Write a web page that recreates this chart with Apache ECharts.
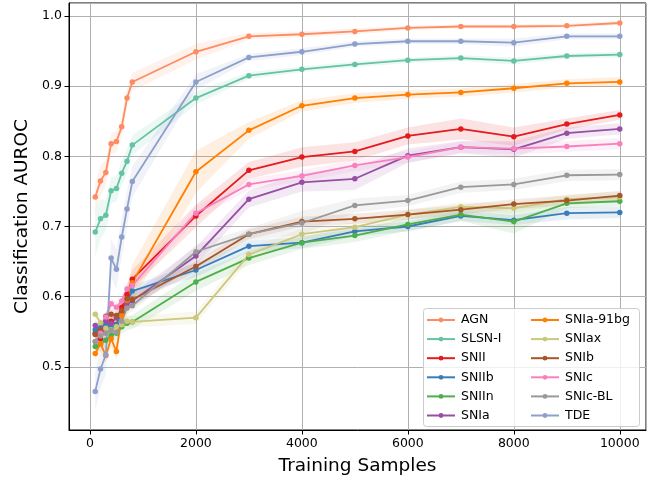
<!DOCTYPE html>
<html><head><meta charset="utf-8">
<script src="https://cdn.jsdelivr.net/npm/echarts@6/dist/echarts.min.js"></script>
<style>html,body{margin:0;padding:0;background:#fff}#c{width:668px;height:487px}</style>
</head><body><div id="c"></div>
<script>
// ---- data ----
const samples = [100,200,300,400,500,600,700,800,2000,3000,4000,5000,6000,7000,8000,9000,10000];
const classNames = ['AGN','SLSN-I','SNII','SNIIb','SNIIn','SNIa','SNIa-91bg','SNIax','SNIb','SNIc','SNIc-BL','TDE'];
const classColors = ['#fc8d62','#66c2a5','#e41a1c','#377eb8','#4daf4a','#984ea3','#ff7f00','#cbc77b','#a65628','#f781bf','#999999','#8da0cb'];

const aucAGN      = [0.742,0.765,0.777,0.818,0.821,0.842,0.883,0.906,0.949,0.971,0.974,0.978,0.983,0.985,0.985,0.986,0.990];
const aucSLSNI    = [0.692,0.711,0.716,0.751,0.754,0.776,0.793,0.816,0.883,0.915,0.924,0.931,0.937,0.940,0.936,0.943,0.945];
const aucSNII     = [0.548,0.540,0.556,0.565,0.560,0.585,0.603,0.625,0.715,0.780,0.799,0.807,0.829,0.839,0.828,0.846,0.859];
const aucSNIIb    = [0.553,0.556,0.560,0.556,0.560,0.578,0.593,0.608,0.638,0.672,0.677,0.693,0.700,0.715,0.709,0.719,0.720];
const aucSNIIn    = [0.529,0.533,0.538,0.545,0.548,0.557,0.562,0.564,0.621,0.655,0.677,0.687,0.703,0.717,0.707,0.733,0.736];
const aucSNIa     = [0.559,0.550,0.565,0.562,0.570,0.578,0.590,0.594,0.658,0.739,0.763,0.768,0.801,0.813,0.810,0.833,0.839];
const aucSNIa91bg = [0.519,0.533,0.516,0.540,0.522,0.573,0.595,0.620,0.778,0.837,0.872,0.883,0.888,0.891,0.897,0.904,0.906];
const aucSNIax    = [0.575,0.563,0.555,0.553,0.557,0.560,0.565,0.564,0.570,0.660,0.689,0.699,0.717,0.728,0.726,0.739,0.742];
const aucSNIb     = [0.546,0.553,0.572,0.575,0.573,0.580,0.597,0.596,0.643,0.689,0.707,0.711,0.717,0.724,0.732,0.737,0.744];
const aucSNIc     = [0.536,0.548,0.571,0.590,0.585,0.594,0.611,0.616,0.719,0.760,0.772,0.787,0.799,0.813,0.811,0.814,0.818];
const aucSNIcBL   = [0.536,0.544,0.548,0.552,0.549,0.565,0.584,0.587,0.664,0.689,0.705,0.730,0.737,0.756,0.760,0.773,0.774];
const aucTDE      = [0.465,0.497,0.517,0.655,0.639,0.685,0.725,0.764,0.906,0.941,0.949,0.960,0.964,0.964,0.962,0.971,0.971];

// spread (half-width of shaded band)
const sdAGN      = [0.020,0.022,0.018,0.015,0.015,0.015,0.014,0.013,0.011,0.005,0.004,0.004,0.003,0.003,0.003,0.003,0.003];
const sdSLSNI    = [0.035,0.028,0.022,0.018,0.018,0.018,0.017,0.014,0.009,0.005,0.004,0.004,0.004,0.004,0.005,0.004,0.004];
const sdSNII     = [0.012,0.012,0.012,0.012,0.012,0.012,0.012,0.013,0.016,0.012,0.014,0.013,0.012,0.015,0.013,0.008,0.007];
const sdSNIIb    = [0.008,0.008,0.008,0.008,0.008,0.008,0.008,0.008,0.010,0.008,0.008,0.007,0.007,0.007,0.007,0.009,0.008];
const sdSNIIn    = [0.010,0.010,0.010,0.010,0.010,0.010,0.010,0.010,0.013,0.010,0.009,0.009,0.009,0.009,0.017,0.007,0.007];
const sdSNIa     = [0.008,0.008,0.008,0.008,0.008,0.008,0.008,0.010,0.013,0.012,0.013,0.016,0.010,0.009,0.012,0.008,0.008];
const sdSNIa91bg = [0.010,0.010,0.010,0.012,0.012,0.017,0.022,0.026,0.030,0.012,0.008,0.007,0.006,0.006,0.006,0.006,0.007];
const sdSNIax    = [0.008,0.008,0.008,0.008,0.008,0.008,0.008,0.008,0.009,0.009,0.008,0.007,0.007,0.007,0.007,0.007,0.007];
const sdSNIb     = [0.007,0.007,0.007,0.007,0.007,0.007,0.007,0.007,0.008,0.007,0.007,0.007,0.007,0.007,0.007,0.007,0.007];
const sdSNIc     = [0.008,0.008,0.008,0.008,0.008,0.008,0.008,0.008,0.010,0.008,0.008,0.008,0.008,0.008,0.008,0.008,0.008];
const sdSNIcBL   = [0.008,0.008,0.008,0.008,0.008,0.008,0.008,0.008,0.010,0.009,0.017,0.010,0.008,0.008,0.008,0.008,0.008];
const sdTDE      = [0.028,0.028,0.028,0.028,0.028,0.028,0.026,0.022,0.011,0.005,0.005,0.004,0.004,0.004,0.006,0.004,0.004];

const aucList = [aucAGN,aucSLSNI,aucSNII,aucSNIIb,aucSNIIn,aucSNIa,aucSNIa91bg,aucSNIax,aucSNIb,aucSNIc,aucSNIcBL,aucTDE];
const sdList  = [sdAGN,sdSLSNI,sdSNII,sdSNIIb,sdSNIIn,sdSNIa,sdSNIa91bg,sdSNIax,sdSNIb,sdSNIc,sdSNIcBL,sdTDE];

// ---- chart ----
const FONT = 'DejaVu Sans';
const series = [];
classNames.forEach((name, i) => {
  const v = aucList[i], s = sdList[i], col = classColors[i];
  const bandData = samples.map((x, k) => [x, v[k] - s[k], v[k] + s[k]]);
  series.push({
    name: name + '__band', type: 'custom', silent: true, z: 1, clip: true, animation: false,
    encode: { x: 0, y: [1, 2] },
    data: bandData,
    renderItem: function (params, api) {
      if (params.dataIndex !== 0) return null;
      const upper = bandData.map(d => api.coord([d[0], d[2]]));
      const lower = bandData.map(d => api.coord([d[0], d[1]])).reverse();
      return {
        type: 'polygon',
        shape: { points: upper.concat(lower) },
        style: { fill: col, opacity: 0.12, stroke: 'none' }
      };
    }
  });
});
classNames.forEach((name, i) => {
  series.push({
    name: name, type: 'line', z: 2, animation: false,
    symbol: 'circle', symbolSize: 5.5, showSymbol: true,
    itemStyle: { color: classColors[i] },
    lineStyle: { color: classColors[i], width: 1.8 },
    data: samples.map((x, k) => [x, aucList[i][k]])
  });
});

const legendCommon = {
  orient: 'vertical', itemWidth: 28, itemHeight: 6, itemGap: 6.1, padding: 0,
  textStyle: { fontFamily: FONT, fontSize: 12.5, color: '#000', padding: [0,0,0,1] },
  selectedMode: false
};

const chart = echarts.init(document.getElementById('c'), null, { renderer: 'canvas' });
chart.setOption({
  backgroundColor: '#fff',
  animation: false,
  grid: { left: 69, right: 22, top: 3, bottom: 57, show: true, borderColor: '#000', borderWidth: 1, backgroundColor: 'transparent' },
  xAxis: {
    type: 'value', min: -395, max: 10495, splitNumber: 5,
    name: 'Training Samples', nameLocation: 'middle', nameGap: 27,
    nameTextStyle: { fontFamily: FONT, fontSize: 18.5, color: '#000' },
    axisLine: { show: true, onZero: false, lineStyle: { color: '#000', width: 1 } },
    axisTick: { show: true, length: 4.5, lineStyle: { color: '#000' } },
    axisLabel: { showMinLabel: false, showMaxLabel: false, margin: 7, fontFamily: FONT, fontSize: 12.5, color: '#000',
      formatter: v => String(Math.round(v)) },
    splitLine: { show: true, lineStyle: { color: '#b0b0b0', width: 1 } }
  },
  yAxis: {
    type: 'value', min: 0.41, max: 1.0185, splitNumber: 5,
    name: 'Classification AUROC', nameLocation: 'middle', nameGap: 33,
    nameTextStyle: { fontFamily: FONT, fontSize: 18.5, color: '#000' },
    axisLine: { show: true, onZero: false, lineStyle: { color: '#000', width: 1 } },
    axisTick: { show: true, length: 4.5, lineStyle: { color: '#000' } },
    axisLabel: { showMinLabel: false, showMaxLabel: false, margin: 7, fontFamily: FONT, fontSize: 12.5, color: '#000',
      formatter: v => v.toFixed(1) },
    splitLine: { show: true, lineStyle: { color: '#b0b0b0', width: 1 } }
  },
  graphic: { elements: [{
    type: 'rect', left: 423, top: 308, z: 3, silent: true,
    shape: { width: 216, height: 118, r: 3 },
    style: { fill: 'rgba(255,255,255,0.8)', stroke: '#cccccc', lineWidth: 1 }
  }]},
  legend: [
    Object.assign({ left: 426, top: 313.5, data: classNames.slice(0, 6) }, legendCommon),
    Object.assign({ left: 530, top: 313.5, data: classNames.slice(6) }, legendCommon)
  ],
  series: series
});
</script></body></html>
